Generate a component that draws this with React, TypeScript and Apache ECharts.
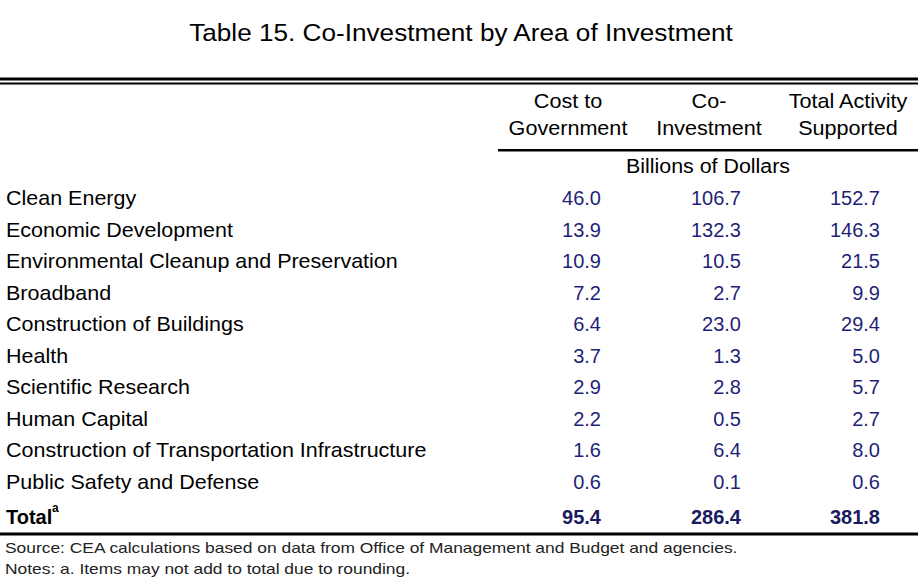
import React, { useEffect, useRef } from "react";
import * as echarts from "echarts";

const title = "Table 15. Co-Investment by Area of Investment";
const headerLine1 = ["Cost to", "Co-", "Total Activity"];
const headerLine2 = ["Government", "Investment", "Supported"];
const unitLabel = "Billions of Dollars";
const categories = [
  "Clean Energy",
  "Economic Development",
  "Environmental Cleanup and Preservation",
  "Broadband",
  "Construction of Buildings",
  "Health",
  "Scientific Research",
  "Human Capital",
  "Construction of Transportation Infrastructure",
  "Public Safety and Defense",
];
const costToGovernment = [46.0, 13.9, 10.9, 7.2, 6.4, 3.7, 2.9, 2.2, 1.6, 0.6];
const coInvestment = [106.7, 132.3, 10.5, 2.7, 23.0, 1.3, 2.8, 0.5, 6.4, 0.1];
const totalActivity = [152.7, 146.3, 21.5, 9.9, 29.4, 5.0, 5.7, 2.7, 8.0, 0.6];
const totalLabel = "Total";
const totalValues = [95.4, 286.4, 381.8];
const sourceNote = "Source: CEA calculations based on data from Office of Management and Budget and agencies.";
const notesNote = "Notes: a. Items may not add to total due to rounding.";

const FONT = "'Liberation Sans', Arial, sans-serif";

export default function App() {
  const ref = useRef<HTMLDivElement>(null);
  useEffect(() => {
    if (!ref.current) return;
    const chart = echarts.init(ref.current, undefined, { renderer: "svg" });
    const colRight = [601, 741, 880];
    const colCenter = [568, 709, 848];
    const rowY0 = 198;
    const rowStep = 31.5;
    const valueCols = [costToGovernment, coInvestment, totalActivity];
    const els: any[] = [];
    els.push({
      type: "text",
      x: 461,
      y: 32,
      scaleX: 1.09,
      style: { text: title, font: `24px ${FONT}`, fill: "#000", align: "center", verticalAlign: "middle" },
    });
    els.push({ type: "rect", shape: { x: 0, y: 77.5, width: 918, height: 3 }, style: { fill: "#000" } });
    els.push({ type: "rect", shape: { x: 0, y: 82.5, width: 918, height: 2 }, style: { fill: "#000" } });
    headerLine1.forEach((h, i) => {
      els.push({
        type: "text",
        x: colCenter[i],
        y: 101,
        scaleX: 1.08,
        style: { text: h, font: `20px ${FONT}`, fill: "#000", align: "center", verticalAlign: "middle" },
      });
      els.push({
        type: "text",
        x: colCenter[i],
        y: 128,
        scaleX: 1.08,
        style: { text: headerLine2[i], font: `20px ${FONT}`, fill: "#000", align: "center", verticalAlign: "middle" },
      });
    });
    els.push({ type: "rect", shape: { x: 498, y: 149, width: 420, height: 2.5 }, style: { fill: "#000" } });
    els.push({
      type: "text",
      x: 708,
      y: 166,
      scaleX: 1.07,
      style: { text: unitLabel, font: `20px ${FONT}`, fill: "#000", align: "center", verticalAlign: "middle" },
    });
    categories.forEach((c, r) => {
      const y = rowY0 + r * rowStep;
      els.push({
        type: "text",
        x: 6,
        y,
        scaleX: 1.075,
        style: { text: c, font: `20px ${FONT}`, fill: "#000", align: "left", verticalAlign: "middle" },
      });
      valueCols.forEach((col, i) => {
        els.push({
          type: "text",
          x: colRight[i],
          y,
          style: { text: col[r].toFixed(1), font: `20px ${FONT}`, fill: "#1f1f78", align: "right", verticalAlign: "middle" },
        });
      });
    });
    const totalY = 517;
    els.push({
      type: "text",
      x: 6,
      y: totalY,
      style: { text: totalLabel, font: `bold 20px ${FONT}`, fill: "#000", align: "left", verticalAlign: "middle" },
    });
    els.push({
      type: "text",
      x: 52,
      y: 508,
      style: { text: "a", font: `bold 12px ${FONT}`, fill: "#000", align: "left", verticalAlign: "middle" },
    });
    totalValues.forEach((v, i) => {
      els.push({
        type: "text",
        x: colRight[i],
        y: totalY,
        style: { text: v.toFixed(1), font: `bold 20px ${FONT}`, fill: "#1a1a5c", align: "right", verticalAlign: "middle" },
      });
    });
    els.push({ type: "rect", shape: { x: 0, y: 532.5, width: 918, height: 3 }, style: { fill: "#000" } });
    els.push({
      type: "text",
      x: 5,
      y: 547,
      scaleX: 1.16,
      style: { text: sourceNote, font: `15px ${FONT}`, fill: "#222", align: "left", verticalAlign: "middle" },
    });
    els.push({
      type: "text",
      x: 5,
      y: 568,
      scaleX: 1.16,
      style: { text: notesNote, font: `15px ${FONT}`, fill: "#222", align: "left", verticalAlign: "middle" },
    });
    chart.setOption({
      animation: false,
      backgroundColor: "#fff",
      graphic: { elements: els },
    });
    return () => chart.dispose();
  }, []);
  return <div ref={ref} style={{ width: 923, height: 585, position: "absolute", left: 0, top: 0 }} />;
}
